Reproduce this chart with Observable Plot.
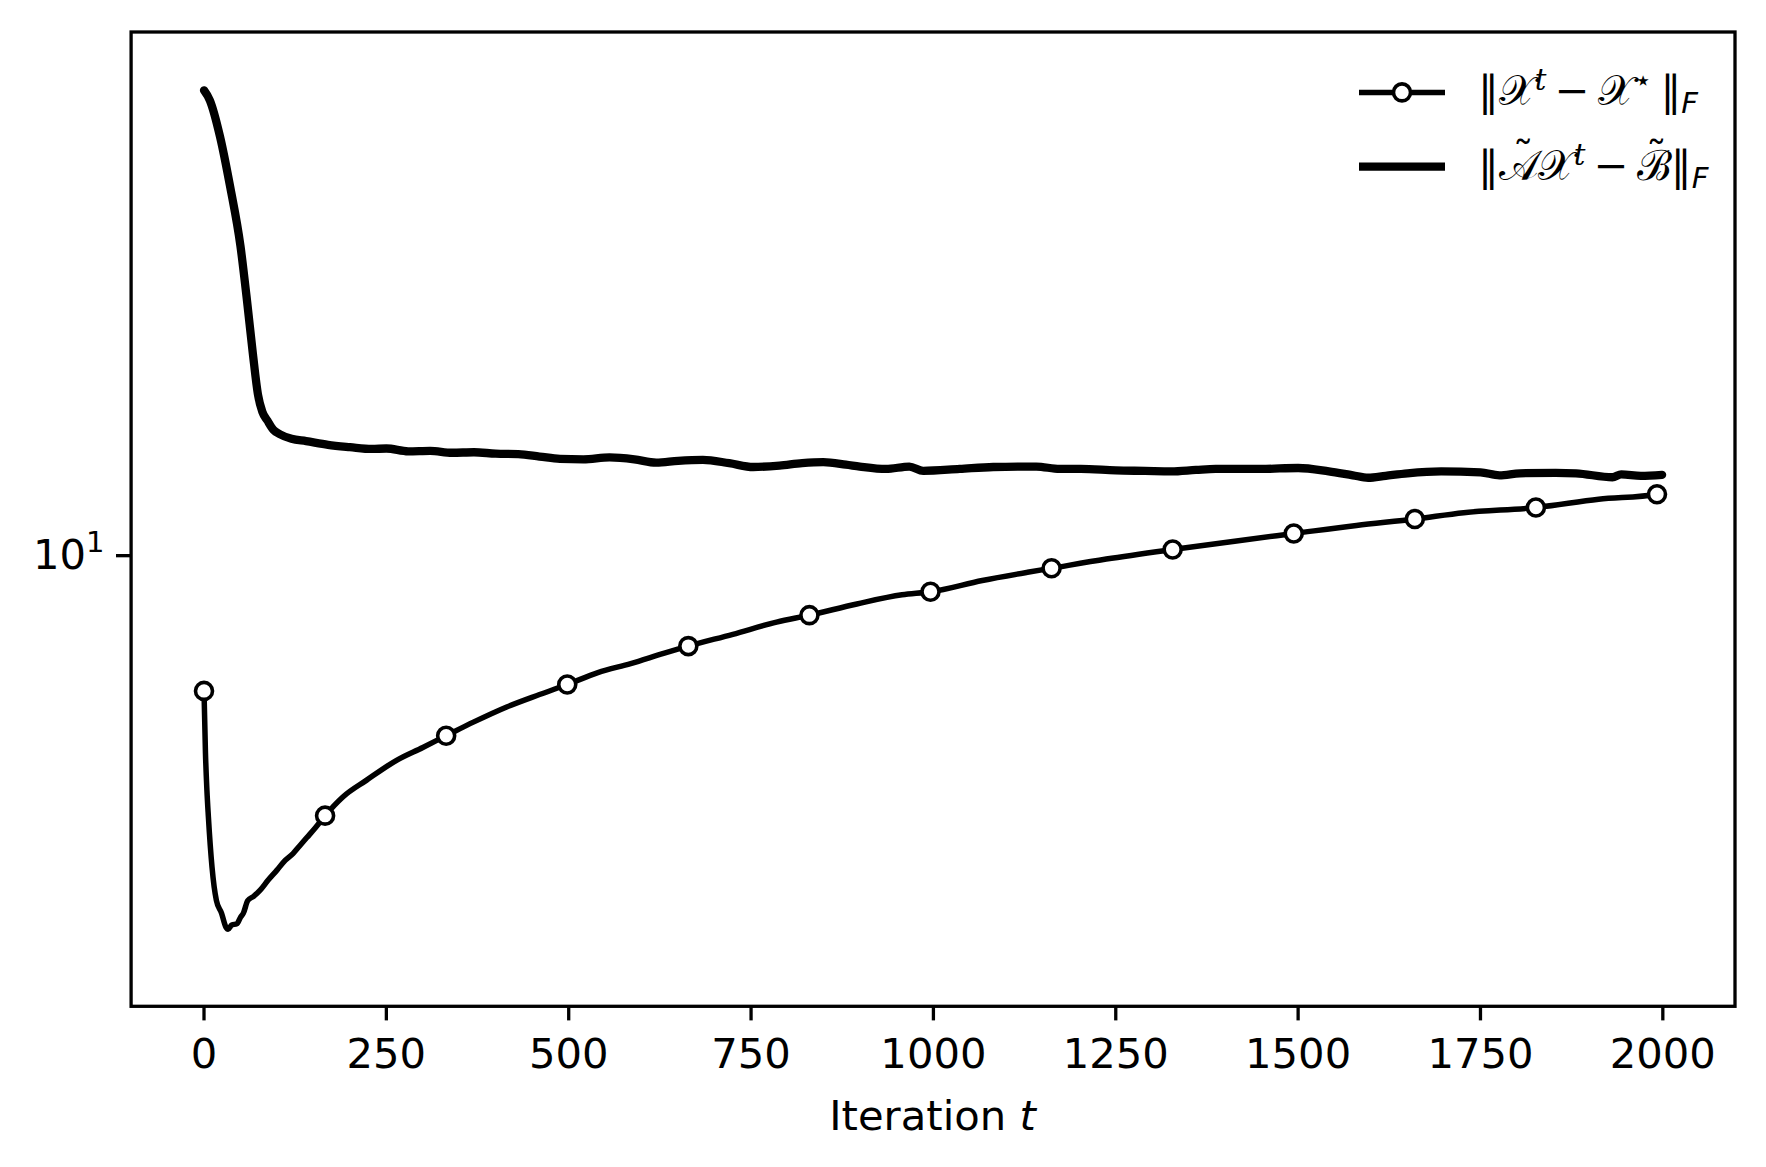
<!DOCTYPE html>
<html><head><meta charset="utf-8">
<script src="https://cdn.jsdelivr.net/npm/d3@7"></script>
<script src="https://cdn.jsdelivr.net/npm/@observablehq/plot@0.6"></script>
<style>
html,body{margin:0;padding:0;background:#fff;}
#chart svg{display:block;}
</style>
</head><body><div id="chart"></div>
<script>
// ||X^t - X*||_F  (line with circle markers)
const errT = [0, 2, 4, 6, 11, 17, 24, 30, 33, 38, 45, 50, 54, 60, 68, 77, 88, 100, 110, 122, 131, 141, 153, 166, 190, 223, 264, 300, 332, 370, 415, 460, 498, 540, 585, 630, 664, 725, 785, 830, 895, 957, 996, 1067, 1129, 1162, 1237, 1328, 1413, 1494, 1580, 1660, 1727, 1826, 1912, 1992, 1999];
const errV = [7.87, 7.05, 6.60, 6.30, 5.76, 5.43, 5.31, 5.18, 5.16, 5.20, 5.21, 5.27, 5.31, 5.43, 5.47, 5.53, 5.63, 5.73, 5.82, 5.90, 5.98, 6.07, 6.18, 6.31, 6.52, 6.72, 6.96, 7.12, 7.27, 7.45, 7.65, 7.82, 7.96, 8.13, 8.26, 8.41, 8.52, 8.70, 8.89, 9.00, 9.18, 9.33, 9.38, 9.57, 9.71, 9.78, 9.94, 10.11, 10.26, 10.40, 10.55, 10.67, 10.79, 10.89, 11.05, 11.15, 11.17];
// ||A X^t - B||_F  (thick plain line)
const resT = [0, 8, 22, 36, 50, 59, 67, 74, 80, 87, 95, 104, 120, 140, 170, 200, 230, 250, 280, 310, 340, 370, 400, 431, 460, 488, 520, 556, 590, 620, 650, 684, 720, 753, 789, 820, 849, 880, 899, 935, 967, 986, 1036, 1082, 1141, 1173, 1202, 1250, 1290, 1326, 1360, 1387, 1449, 1500, 1542, 1575, 1596, 1620, 1650, 1696, 1750, 1776, 1804, 1853, 1881, 1931, 1943, 1970, 1999];
const resV = [22.8, 22.4, 21.0, 19.2, 17.3, 15.7, 14.3, 13.3, 12.9, 12.7, 12.5, 12.4, 12.3, 12.25, 12.17, 12.12, 12.08, 12.09, 12.03, 12.04, 12.00, 12.01, 11.98, 11.97, 11.92, 11.87, 11.86, 11.90, 11.86, 11.79, 11.83, 11.85, 11.78, 11.70, 11.73, 11.78, 11.80, 11.75, 11.71, 11.66, 11.71, 11.62, 11.66, 11.70, 11.71, 11.66, 11.66, 11.63, 11.62, 11.61, 11.64, 11.66, 11.66, 11.68, 11.61, 11.53, 11.48, 11.52, 11.57, 11.61, 11.59, 11.53, 11.57, 11.58, 11.57, 11.49, 11.55, 11.52, 11.54];
// marker positions (every 166 iterations)
const markerT = [0, 166, 332, 498, 664, 830, 996, 1162, 1328, 1494, 1660, 1826, 1992];
const xTicks = [0, 250, 500, 750, 1000, 1250, 1500, 1750, 2000];
const yTicks = [10];
const yTickLabels = ["10\u00B9"];

const errData = errT.map((t, i) => ({t, v: errV[i]}));
const resData = resT.map((t, i) => ({t, v: resV[i]}));
const markerData = errData.filter(d => markerT.includes(d.t));

const W = 1766, H = 1167;
const mL = 130.6, mR = 31.5, mT = 31.5, mB = 161.2;
const FS = 41.7;

const plot = Plot.plot({
  width: W, height: H,
  marginLeft: mL, marginRight: mR, marginTop: mT, marginBottom: mB,
  style: {fontFamily: "DejaVu Sans", fontSize: FS + "px", background: "#fff", color: "#000", overflow: "visible"},
  x: {domain: [-99.95, 2098.95]},
  y: {type: "log", domain: [4.502, 25.28]},
  marks: [
    Plot.axisX({ticks: xTicks, tickFormat: d => String(d), tickSize: 14.6, tickPadding: 17, strokeWidth: 3.3, fontSize: FS, label: null}),
    Plot.axisY({ticks: yTicks, tickFormat: d => yTickLabels[yTicks.indexOf(d)], tickSize: 14.6, tickPadding: 12, strokeWidth: 3.3, fontSize: FS, label: null}),
    Plot.lineY(resData, {x: "t", y: "v", stroke: "#000", strokeWidth: 8.3, curve: "monotone-x", strokeLinejoin: "round"}),
    Plot.lineY(errData, {x: "t", y: "v", stroke: "#000", strokeWidth: 5.5, curve: "monotone-x", strokeLinejoin: "round"}),
    Plot.dot(markerData, {x: "t", y: "v", r: 8.5, fill: "#fff", stroke: "#000", strokeWidth: 3.6}),
    Plot.frame({stroke: "#000", strokeWidth: 3.3})
  ]
});
document.getElementById("chart").appendChild(plot);

const svg = d3.select(plot);
// render the 10^1 tick label with a real superscript
svg.selectAll("text").each(function() {
  if (this.textContent === yTickLabels[0]) {
    const el = d3.select(this);
    el.text(null);
    el.append("tspan").text("10");
    el.append("tspan").attr("font-size", 29).attr("dy", -17).text("1");
  }
});

// x-axis label
const xl = svg.append("text")
  .attr("x", (mL + (W - mR)) / 2).attr("y", 1130)
  .attr("text-anchor", "middle")
  .attr("font-family", "DejaVu Sans").attr("font-size", FS).attr("fill", "#000");
xl.append("tspan").text("Iteration ");
xl.append("tspan").attr("font-style", "italic").text("t");

// legend
const lg = svg.append("g");
const lx0 = 1359, lx1 = 1445, tx = 1478;
const rows = [92.4, 166.7];
lg.append("line").attr("x1", lx0).attr("x2", lx1).attr("y1", rows[0]).attr("y2", rows[0]).attr("stroke", "#000").attr("stroke-width", 5.5);
lg.append("circle").attr("cx", (lx0 + lx1) / 2).attr("cy", rows[0]).attr("r", 8.5).attr("fill", "#fff").attr("stroke", "#000").attr("stroke-width", 3.6);
lg.append("line").attr("x1", lx0).attr("x2", lx1).attr("y1", rows[1]).attr("y2", rows[1]).attr("stroke", "#000").attr("stroke-width", 8.3);

function mathText(y, parts) {
  const t = lg.append("text").attr("x", tx).attr("y", y)
    .attr("text-anchor", "start")
    .attr("font-family", "DejaVu Serif").attr("font-size", FS).attr("fill", "#000");
  for (const p of parts) {
    const s = t.append("tspan").text(p.s);
    if (p.dx) s.attr("dx", p.dx);
    if (p.dy) s.attr("dy", p.dy);
    if (p.fs) s.attr("font-size", p.fs);
    if (p.it) s.attr("font-style", "italic");
    if (p.ff) s.attr("font-family", p.ff);
  }
}
const SX = "\uD835\uDCB3", SA = "\uD835\uDC9C", SB = "\u212C";
const TS = "\u2009";
mathText(rows[0] + 13, [
  {s: "\u2016"}, {s: SX}, {s: "t", dy: -15, fs: 29, it: true},
  {s: TS + "\u2212" + TS, dy: 15}, {s: SX}, {s: "\u22C6", dy: -15, fs: 29},
  {s: TS + "\u2016", dy: 15}, {s: "F", dy: 8, fs: 29, it: true, ff: "DejaVu Sans"}
]);
mathText(rows[1] + 13, [
  {s: "\u2016"}, {s: SA}, {s: "\u02DC", dx: -26, dy: -10}, {s: SX, dx: 4, dy: 10}, {s: "t", dy: -15, fs: 29, it: true},
  {s: TS + "\u2212" + TS, dy: 15}, {s: SB}, {s: "\u02DC", dx: -26, dy: -10},
  {s: "\u2016", dx: 4, dy: 10}, {s: "F", dy: 8, fs: 29, it: true, ff: "DejaVu Sans"}
]);
</script>
</body></html>
